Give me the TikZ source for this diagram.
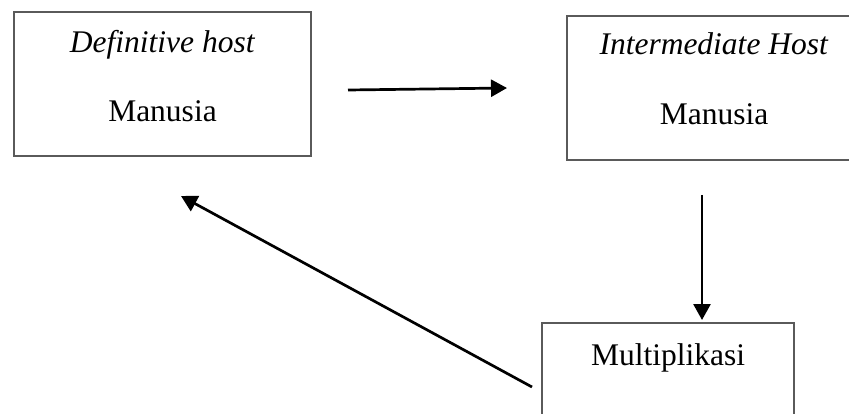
\documentclass[tikz,border=0pt]{standalone}
\usepackage{fontspec}
\setmainfont{Liberation Serif}
\usepackage{tikz}
\usetikzlibrary{positioning, arrows.meta, calc}
\definecolor{BoxGray}{HTML}{5A5A5A}

\begin{document}
\begin{tikzpicture}[
  x=1pt, y=-1pt,
  every node/.style={inner sep=0pt, outer sep=0pt},
  hostbox/.style={draw=BoxGray, line width=1.3pt, minimum width=297pt, minimum height=144pt},
  lbl/.style={font=\fontsize{31.5}{36}\selectfont, anchor=base},
  arr/.style={-{Triangle[length=16pt, width=17pt]}, line width=2.7pt, black}
]
  \useasboundingbox (0,0) rectangle (849,414);

  % Boxes
  \node[hostbox] (defhost) at (162.5,84) {};
  \node[hostbox, minimum width=294pt] (interhost) at (714,88) {};
  \node[hostbox, minimum width=252pt] (multi) at (668,395) {};

  % Texts
  \node[lbl] (deftitle) at ($(defhost.north)+(0,41)$) {\textit{Definitive host}};
  \node[lbl] (defname) at ($(defhost.north)+(0,110)$) {Manusia};
  \node[lbl] (intertitle) at ($(interhost.north)+(0,39)$) {\textit{Intermediate Host}};
  \node[lbl] (intername) at ($(interhost.north)+(0,109)$) {Manusia};
  \node[lbl] (multiname) at ($(multi.north)+(0,42)$) {Multiplikasi};

  % Cycle
  \draw[arr] ($(defhost.east)+(37,6)$) -- ($(interhost.west)+(-60,0)$);
  \draw[arr] ($(interhost.south)+(-12,35)$) -- ($(multi.north)+(34,-3)$);
  \draw[arr] ($(multi.west)+(-10,-8)$) -- ($(defhost.south)+(18.5,40)$);
\end{tikzpicture}
\end{document}
